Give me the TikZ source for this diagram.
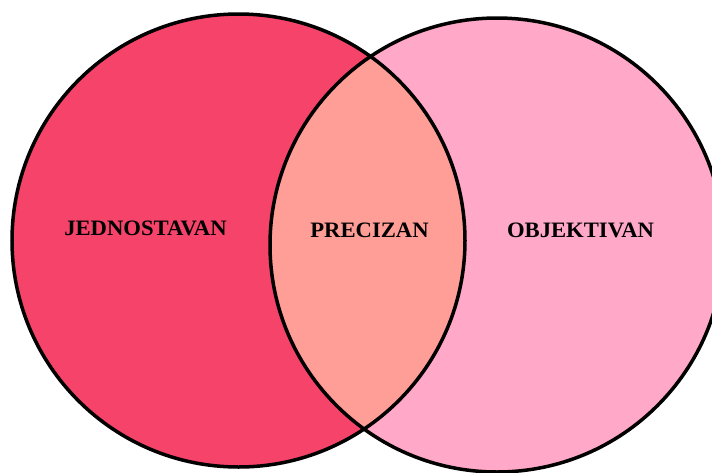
\documentclass[tikz,border=0pt]{standalone}
\usepackage{fontspec}
\setmainfont{Liberation Serif}
\usetikzlibrary{positioning}
\definecolor{vennRed}{HTML}{F6436A}
\definecolor{vennSalmon}{HTML}{FF9E96}
\definecolor{vennPink}{HTML}{FFA8C8}
\begin{document}
\begin{tikzpicture}[x=1pt, y=-1pt,
  ring/.style={draw=black, line width=3.5pt},
  lbl/.style={font=\fontsize{22}{26}\selectfont\bfseries, xscale=1.03, inner sep=0pt}]
\useasboundingbox (0,0) rectangle (712,472);
\clip (0,0) rectangle (712,472);
\coordinate (cL) at (238.5,240.5);
\coordinate (cR) at (497,245);
% ---- fills
\fill[vennRed] (cL) circle[radius=226.5];
\fill[vennPink] (cR) circle[radius=227];
\begin{scope}
  \clip (cL) circle[radius=226.5];
  \fill[vennSalmon] (cR) circle[radius=227];
\end{scope}
% ---- outlines
\draw[ring] (cL) circle[radius=226.5];
\draw[ring] (cR) circle[radius=227];
% ---- labels
\node[lbl] (jed) at (145.5,228) {JEDNOSTAVAN};
\node[lbl] (pre) at (369.5,230) {PRECIZAN};
\node[lbl] (obj) at (580.5,230) {OBJEKTIVAN};
\end{tikzpicture}
\end{document}
